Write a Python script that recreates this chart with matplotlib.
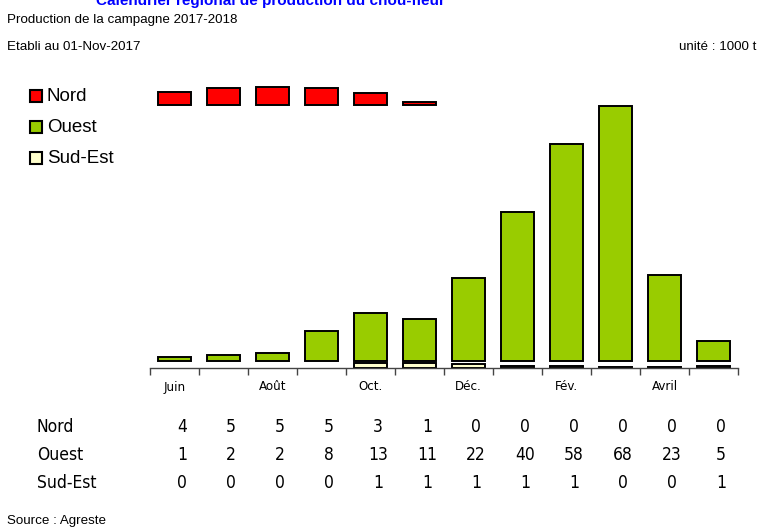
# Calendrier regional de production - campagne 2017-2018
import numpy as np
import matplotlib
matplotlib.use('Agg')
import matplotlib.pyplot as plt
from matplotlib.patches import Rectangle
from matplotlib.transforms import blended_transform_factory

# Data (1000 t)
mois = ['Juin', 'Juil.', 'Août', 'Sept.', 'Oct.', 'Nov.', 'Déc.', 'Janv.', 'Fév.', 'Mars', 'Avril', 'Mai']
mois_affiches = ['Juin', '', 'Août', '', 'Oct.', '', 'Déc.', '', 'Fév.', '', 'Avril', '']
regions = ['Nord', 'Ouest', 'Sud-Est']
nord = [3.6, 4.7, 5.0, 4.6, 3.2, 1.0, 0, 0, 0, 0, 0, 0]
ouest = [1.0, 1.6, 2.1, 8.0, 12.7, 11.2, 22.1, 39.7, 57.9, 68.0, 22.9, 5.4]
sud_est = [0, 0, 0, 0, 1.3, 1.3, 1.2, 0.6, 0.6, 0.3, 0.3, 0.6]

couleurs = ['#ff0000', '#99cc00', '#ffffcc']
W, H = 760, 528
narrow = 'DejaVu Sans'
arial = ['Liberation Sans', 'DejaVu Sans']

fig = plt.figure(figsize=(W / 100, H / 100), dpi=100)

# axes: bottom at 368 px, scale ~3.75 px per 1000 t
ax_top = 78
ax = fig.add_axes([150 / W, (H - 368) / H, 588 / W, (368 - ax_top) / H])
scale = 3.75
ax.set_ylim(0, (368 - ax_top) / scale)
ax.set_xlim(-0.5, len(mois) - 0.5)

# each region has its own band
bases = [262.5 / scale, 7 / scale, 0]
x = np.arange(len(mois))
for serie, base, c in zip([nord, ouest, sud_est], bases, couleurs):
    v = np.array(serie)
    m = v > 0
    ax.bar(x[m], v[m], bottom=base, width=0.69, color=c, edgecolor='black', linewidth=1.4)

for s in ['top', 'right', 'left']:
    ax.spines[s].set_visible(False)
ax.spines['bottom'].set_color('#444444')
ax.spines['bottom'].set_linewidth(1)
ax.set_yticks([])
ax.set_xticks(np.arange(len(mois) + 1) - 0.5)
ax.set_xticklabels([])
ax.tick_params(axis='x', direction='out', length=5, width=1, color='#444444')

# month labels
tr = blended_transform_factory(ax.transData, fig.transFigure)
for i, lab in enumerate(mois_affiches):
    if lab:
        fig.text(x[i], 1 - 387 / H, lab, transform=tr, ha='center', va='center',
                 fontsize=9.5, family=narrow, fontstretch='condensed')

# table of values
rows_y = [427, 455, 483]
for nom, serie, y in zip(regions, [nord, ouest, sud_est], rows_y):
    fig.text(37 / W, 1 - y / H, nom, ha='left', va='center', fontsize=12.5, family=narrow,
             fontstretch='condensed')
    for i, v in enumerate(serie):
        fig.text(x[i] + 0.15, 1 - y / H, f'{v:.0f}', transform=tr, ha='center', va='center',
                 fontsize=12.5, family=narrow, fontstretch='condensed')

# legend
leg_y = [96, 127, 158]
for nom, c, y in zip(regions, couleurs, leg_y):
    fig.patches.append(Rectangle((30 / W, 1 - (y + 6) / H), 12 / W, 12 / H, transform=fig.transFigure,
                                 facecolor=c, edgecolor='black', linewidth=1.5))
    fig.text(47 / W, 1 - y / H, nom, ha='left', va='center', fontsize=13.5, family=arial)

# titles and notes
fig.text(270 / W, 1 - 5 / H, 'Calendrier régional de production du chou-fleur', ha='center',
         va='baseline', fontsize=11, fontweight='bold', color='#0000ff', family=arial)
fig.text(7 / W, 1 - 20 / H, 'Production de la campagne 2017-2018', ha='left', va='center',
         fontsize=9.6, family=arial)
fig.text(7 / W, 1 - 47 / H, 'Etabli au 01-Nov-2017', ha='left', va='center', fontsize=9.6, family=arial)
fig.text(756 / W, 1 - 47 / H, 'unité : 1000 t', ha='right', va='center', fontsize=9.6, family=arial)
fig.text(7 / W, 1 - 521 / H, 'Source : Agreste', ha='left', va='center', fontsize=9.6, family=arial)

fig.savefig('out.png', dpi=100)
